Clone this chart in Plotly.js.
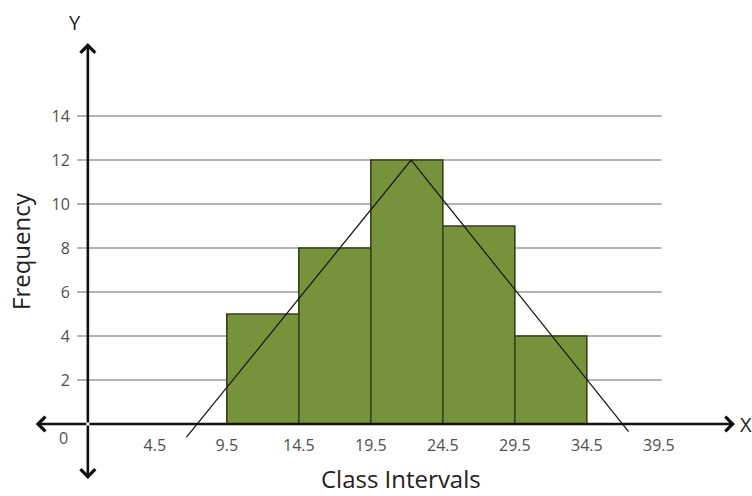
<!DOCTYPE html>
<html>
<head>
<meta charset="utf-8">
<script src="https://cdn.plot.ly/plotly-3.0.1.min.js"></script>
<style>
  html, body { margin: 0; padding: 0; background: #ffffff; }
  #chart { width: 752px; height: 496px; }
</style>
</head>
<body>
<div id="chart"></div>
<script>
// Class intervals (lower and upper boundaries) and their frequencies
const classLower = [9.5, 14.5, 19.5, 24.5, 29.5];
const classUpper = [14.5, 19.5, 24.5, 29.5, 34.5];
const frequencies = [5, 8, 12, 9, 4];

// Hand-drawn frequency polygon (triangle over the histogram)
const polygonX = [6.7, 22.3, 37.4];
const polygonY = [-0.6, 12, -0.35];

// Tick labels
const xTickVals = [4.5, 9.5, 14.5, 19.5, 24.5, 29.5, 34.5, 39.5];
const xTickText = ['4.5', '9.5', '14.5', '19.5', '24.5', '29.5', '34.5', '39.5'];
const yTickVals = [2, 4, 6, 8, 10, 12, 14];
const yTickText = ['2', '4', '6', '8', '10', '12', '14'];

const mids = classLower.map((lo, i) => (lo + classUpper[i]) / 2);
const widths = classLower.map((lo, i) => classUpper[i] - lo);

const xRange = [-3.82, 44.79];
const yRange = [-2.545, 17.364];
const originX = -0.15;

// Plot area in pixels (used to place the paper-referenced labels)
const plotL = 35, plotT = 42, plotW = 700, plotH = 438;
const px = v => (v - plotL) / plotW;
const py = v => (plotT + plotH - v) / plotH;

const bars = {
  type: 'bar',
  x: mids,
  y: frequencies,
  width: widths,
  marker: { color: '#76933c', line: { color: '#33421a', width: 1.6 } },
  hoverinfo: 'x+y',
  showlegend: false
};

const polygon = {
  type: 'scatter',
  mode: 'lines',
  x: polygonX,
  y: polygonY,
  line: { color: '#1a1a1a', width: 1.3 },
  hoverinfo: 'skip',
  showlegend: false
};

// Horizontal grid lines stop short of the plot edges
const gridShapes = yTickVals.map(v => ({
  type: 'line', layer: 'below',
  xref: 'x', yref: 'y',
  x0: -0.9, x1: 39.7, y0: v, y1: v,
  line: { color: '#9a9a9a', width: 1.5 }
}));

// Double-headed axes drawn as arrows from the origin
function axisArrow(x, y) {
  return {
    xref: 'x', yref: 'y', axref: 'x', ayref: 'y',
    x: x, y: y, ax: originX, ay: 0,
    text: '', showarrow: true,
    arrowhead: 4, arrowsize: 1.1, arrowwidth: 2.6,
    arrowcolor: '#111111', standoff: 0, startstandoff: 0
  };
}

const labelFont = { family: 'Open Sans, sans-serif', size: 20, color: '#222222' };
const titleFont = { family: 'Open Sans, sans-serif', size: 24, color: '#222222' };
const tickFont = { family: 'Open Sans, sans-serif', size: 16, color: '#4f4f4f' };

function paperText(x, y, text, font, angle) {
  return {
    xref: 'paper', yref: 'paper', x: px(x), y: py(y),
    xanchor: 'center', yanchor: 'middle',
    text: text, textangle: angle || 0, showarrow: false, font: font
  };
}

const annotations = [
  axisArrow(xRange[1], 0),
  axisArrow(xRange[0] + 0.05, 0),
  axisArrow(originX, yRange[1] - 0.05),
  axisArrow(originX, yRange[0] + 0.05),
  paperText(75, 23, 'Y', labelFont),
  paperText(746, 424, 'X', labelFont),
  paperText(63, 438, '0', tickFont),
  paperText(21, 251, 'Frequency', titleFont, -90),
  paperText(401, 478, 'Class Intervals', titleFont)
];

const layout = {
  width: 752,
  height: 496,
  margin: { l: plotL, r: 752 - plotL - plotW, t: plotT, b: 496 - plotT - plotH },
  paper_bgcolor: '#ffffff',
  plot_bgcolor: '#ffffff',
  bargap: 0,
  xaxis: {
    range: xRange,
    anchor: 'free',
    position: (0 - yRange[0]) / (yRange[1] - yRange[0]),
    showgrid: false, zeroline: false, showline: false,
    ticks: '',
    tickvals: xTickVals, ticktext: xTickText,
    ticklabelstandoff: 10,
    tickfont: tickFont,
    fixedrange: true
  },
  yaxis: {
    range: yRange,
    anchor: 'free',
    position: (originX - xRange[0]) / (xRange[1] - xRange[0]),
    showgrid: false, zeroline: false, showline: false,
    ticks: '',
    tickvals: yTickVals, ticktext: yTickText,
    ticklabelstandoff: 18,
    tickfont: tickFont,
    fixedrange: true
  },
  shapes: gridShapes,
  annotations: annotations
};

Plotly.newPlot('chart', [bars, polygon], layout, { displayModeBar: false, staticPlot: true });
</script>
</body>
</html>
